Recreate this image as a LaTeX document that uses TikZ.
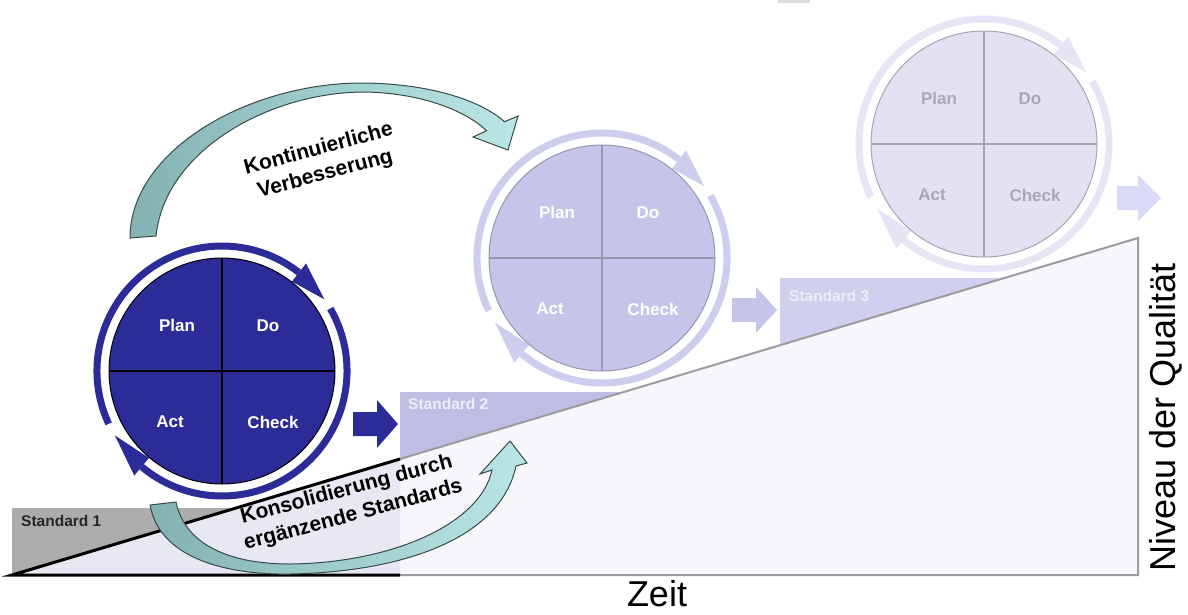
\documentclass[tikz,border=0pt]{standalone}
\usepackage{fontspec}
\setmainfont{Liberation Sans}
\definecolor{dblue}{RGB}{44,44,152}
\definecolor{ctwofill}{RGB}{197,197,234}
\definecolor{ctworing}{RGB}{205,205,238}
\definecolor{ctwoline}{RGB}{150,150,172}
\definecolor{cthreefill}{RGB}{226,226,243}
\definecolor{cthreering}{RGB}{229,229,246}
\definecolor{cthreeline}{RGB}{165,165,180}
\definecolor{cthreetext}{RGB}{168,168,186}
\definecolor{stdone}{RGB}{172,172,172}
\definecolor{stdtwo}{RGB}{190,190,228}
\definecolor{stdthree}{RGB}{208,208,238}
\definecolor{wedgefill}{RGB}{246,246,251}
\definecolor{wedgeleft}{RGB}{232,232,244}
\definecolor{wedgeline}{RGB}{155,155,160}
\definecolor{tealdark}{RGB}{132,178,178}
\definecolor{teallight}{RGB}{186,230,230}
\definecolor{tealedge}{RGB}{55,75,75}
\definecolor{stdtext}{RGB}{238,238,248}
\newcommand\pdcacycle[8]{%
\begin{scope}[shift={(#2,-#3)}]
\draw[draw=#5, line width=7pt] (205:125) arc[start angle=205, end angle=52, radius=125];
\fill[#5] (52:113.5) -- (52:136.5) -- (35:125) -- cycle;
\draw[draw=#5, line width=7pt] (30:125) arc[start angle=30, end angle=-130, radius=125];
\fill[#5] (-130:113.5) -- (-130:136.5) -- (-149:125) -- cycle;
\filldraw[fill=#4, draw=#6, line width=1pt] (0,0) circle[radius=113];
\draw[#6, line width=#8] (-113,0) -- (113,0) (0,113) -- (0,-113);
\node[ptext, text=#7] (#1plan) at (-45,46) {Plan};
\node[ptext, text=#7] (#1do) at (46,45) {Do};
\node[ptext, text=#7] (#1act) at (-52,-51) {Act};
\node[ptext, text=#7] (#1check) at (51,-51) {Check};
\end{scope}}
\begin{document}
\begin{tikzpicture}[x=1pt,y=1pt,
  ptext/.style={font=\bfseries\fontsize{17}{19}\selectfont, inner sep=0pt},
  stdlabel/.style={font=\bfseries\fontsize{15.5}{17}\selectfont, anchor=west, inner sep=0pt},
  curvelabel/.style={font=\bfseries\fontsize{21}{26}\selectfont, align=center, inner sep=0pt, rotate=15},
  axislabel/.style={font=\fontsize{36}{40}\selectfont, inner sep=0pt},
  tealarrow/.style={draw=tealedge, line width=1pt, left color=tealdark, right color=teallight}]
\useasboundingbox (0,0) rectangle (1188,-614);
\fill[white] (0,0) rectangle (1188,-614);
\fill[black!13] (778,0) rectangle (810,-3);
% wedge
\fill[wedgefill] (12,-575) -- (1138,-238) -- (1138,-575) -- cycle;
\fill[wedgeleft] (12,-575) -- (400,-459) -- (400,-575) -- cycle;
% standards
\fill[stdone] (12,-508) -- (236,-508) -- (12,-575) -- cycle;
\fill[stdtwo] (400,-392) -- (623,-392) -- (400,-459) -- cycle;
\fill[stdthree] (780,-278) -- (1004,-278) -- (780,-345) -- cycle;
\draw[wedgeline, line width=2pt] (400,-459) -- (1138,-238) -- (1138,-575) -- (400,-575);
\draw[black, line width=3pt] (400,-459) -- (12,-575) -- (400,-575);
\node[stdlabel, text=black!85] (s1) at (21,-521) {Standard 1};
\node[stdlabel, text=stdtext] (s2) at (408,-404) {Standard 2};
\node[stdlabel, text=stdtext] (s3) at (789,-296) {Standard 3};
% circles
\pdcacycle{a}{222}{371}{dblue}{dblue}{black}{white}{2pt}
\pdcacycle{b}{602}{258}{ctwofill}{ctworing}{ctwoline}{white}{1.5pt}
\pdcacycle{c}{984}{144}{cthreefill}{cthreering}{cthreeline}{cthreetext}{1.5pt}
% block arrows
\fill[dblue] (353,-412) -- (377,-412) -- (377,-400) -- (398,-424) -- (377,-448) -- (377,-436) -- (353,-436) -- cycle;
\fill[ctwofill] (732,-298) -- (756,-298) -- (756,-287) -- (777,-310) -- (756,-333) -- (756,-322) -- (732,-322) -- cycle;
\fill[cthreering!95!blue] (1117,-186) -- (1138,-186) -- (1138,-175) -- (1161,-198) -- (1138,-221) -- (1138,-210) -- (1117,-210) -- cycle;
% curved arrows
\path[tealarrow] (130,-238) .. controls (130,-150) and (250,-82) .. (365,-83)
  .. controls (430,-84) and (480,-100) .. (504.5,-121.7) -- (518,-116) -- (508,-150) -- (473,-137) -- (486.5,-130.7)
  .. controls (465,-110) and (420,-93) .. (365,-92)
  .. controls (270,-92) and (165,-150) .. (156,-236) -- cycle;
\path[tealarrow] (150,-505) .. controls (160,-560) and (230,-575) .. (290,-574)
  .. controls (400,-572) and (500,-540) .. (516,-466) -- (527,-463) -- (510,-441) -- (480,-474) -- (492,-470)
  .. controls (480,-525) and (390,-563) .. (290,-564)
  .. controls (230,-564) and (185,-545) .. (176,-502) -- cycle;
\node[curvelabel] (kv) at (322,-162) {Kontinuierliche\\Verbesserung};
\node[curvelabel] (ks) at (350,-503) {Konsolidierung durch\\ergänzende Standards};
% axes labels
\node[axislabel] (zeit) at (657,-594) {Zeit};
\node[axislabel, rotate=90] (niveau) at (1166,-417) {Niveau der Qualität};
\end{tikzpicture}
\end{document}
